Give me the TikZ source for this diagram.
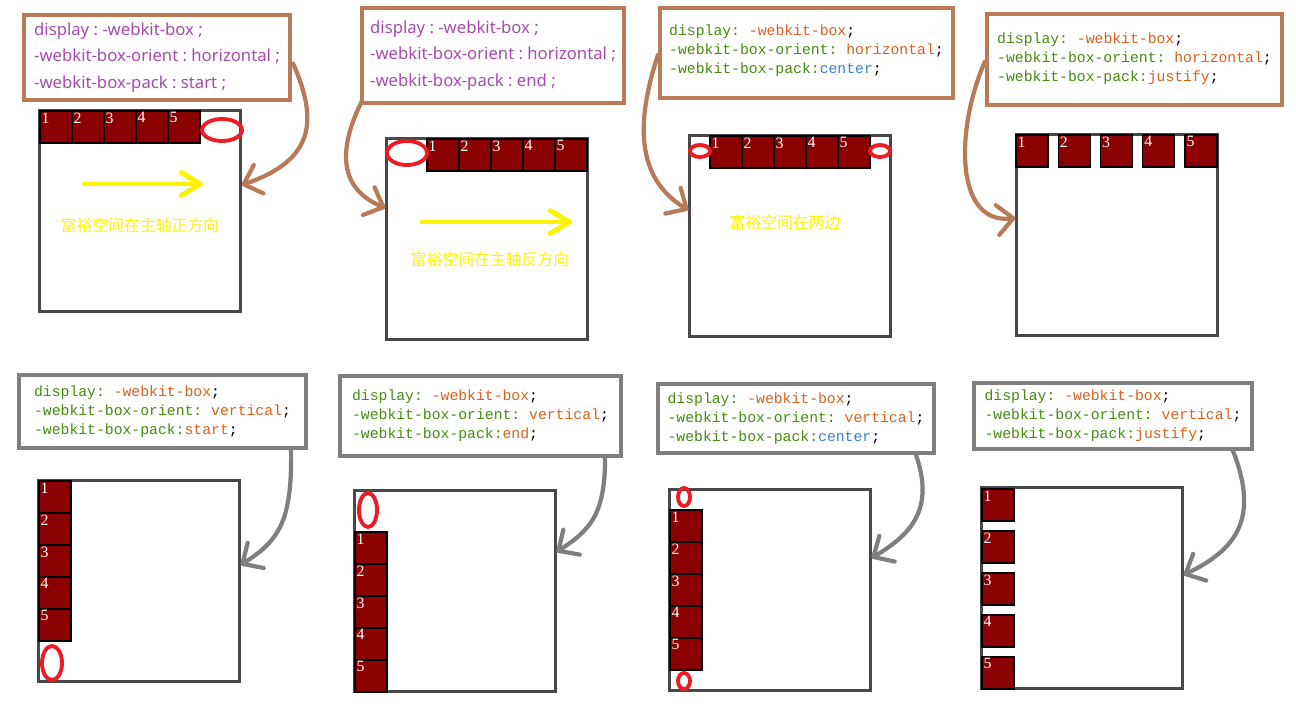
\documentclass[tikz,border=0pt]{standalone}
\usepackage{fontspec}
\usetikzlibrary{arrows.meta,calc}
\newfontfamily\cjk{Noto Sans CJK SC}
\newfontfamily\uifont{Noto Sans}
\newfontfamily\codefont{Liberation Mono}
\newfontfamily\numfont{Liberation Serif}
\definecolor{penbrown}{HTML}{B97A57}
\definecolor{pengray}{HTML}{7F7F7F}
\definecolor{boxgray}{HTML}{484848}
\definecolor{itemred}{HTML}{8B0000}
\definecolor{ovalred}{HTML}{ED1C24}
\definecolor{hiyellow}{HTML}{FFF200}
\definecolor{csspurple}{HTML}{A54BAE}
\definecolor{csskey}{HTML}{468A10}
\definecolor{cssval}{HTML}{D9601C}
\definecolor{cssblue}{HTML}{3C7FD0}
\newcommand{\cssk}[1]{\textcolor{csskey}{#1}}
\newcommand{\cssv}[1]{\textcolor{cssval}{#1}}
\newcommand{\cssb}[1]{\textcolor{cssblue}{#1}}
\frenchspacing
\begin{document}
\begin{tikzpicture}[x=0.02cm, y=-0.02cm]
\tikzset{
  codebox/.style={draw, fill=white, inner sep=0pt, align=left},
  sanscode/.style={codebox, draw=penbrown, line width=2.4pt, text=csspurple, font=\uifont\fontsize{9.5}{15}\selectfont},
  monocode/.style={codebox, line width=2.4pt, font=\codefont\fontsize{8.4}{10.8}\selectfont},
  ctr/.style={draw=boxgray, line width=1.3pt, minimum width=4.02cm, minimum height=4.02cm},
  item/.style={draw=black, line width=0.6pt, fill=itemred, minimum width=0.64cm, minimum height=0.64cm, inner sep=0pt,
    label={[anchor=north west, inner sep=1pt, text=white, font=\numfont\fontsize{9}{9}\selectfont]north west:#1}},
  oval/.style={draw=ovalred, line width=2.2pt},
  hand/.style={line width=2.4pt, line cap=round, line join=round, -{Straight Barb[length=9pt,width=17pt,round]}},
  yarrow/.style={draw=hiyellow, line width=2.8pt, line cap=round, -{Straight Barb[length=11pt,width=13pt,round]}},
  note/.style={text=hiyellow, font=\cjk\fontsize{9}{9}\selectfont}
}
\useasboundingbox (0,0) rectangle (1296,727);

% horizontal, start
\node[sanscode, minimum width=5.32cm, minimum height=1.70cm] (code1) at (157,57.5) {display : -webkit-box ;\\-webkit-box-orient : horizontal ;\\-webkit-box-pack : start ;};
\node[ctr] (box1) at (140,211) {};
\foreach \i in {1,...,5} \node[item=\i] (a\i) at ({56+32*(\i-1)},127) {};
\draw[oval] (222,130) ellipse [x radius=20, y radius=11];
\draw[yarrow] (84,184) -- (203,184);
\node[note] (note1) at (140,225) {富裕空间在主轴正方向};
\draw[hand, penbrown] ($(code1.east)+(1,6)$) .. controls (318,120) and (315,160) .. ($(box1.east)+(0,-26)$);

% horizontal, end
\node[sanscode, minimum width=5.24cm, minimum height=1.90cm] (code2) at (493,55.5) {display : -webkit-box ;\\-webkit-box-orient : horizontal ;\\-webkit-box-pack : end ;};
\node[ctr] (box2) at (487,239) {};
\foreach \i in {1,...,5} \node[item=\i] (b\i) at ({443+32*(\i-1)},155) {};
\draw[oval] (407,153) ellipse [x radius=20, y radius=12];
\draw[yarrow] (422,222) -- (572,222);
\node[note] (note2) at (490,259) {富裕空间在主轴反方向};
\draw[hand, penbrown] ($(code2.south west)+(2,-4)$) .. controls (345,135) and (330,185) .. ($(box2.west)+(0,-31)$);

% horizontal, center
\node[monocode, draw=penbrown, minimum width=5.86cm, minimum height=1.80cm] (code3) at (806.5,53) {\cssk{display:} \cssv{-webkit-box};\\\cssk{-webkit-box-orient:} \cssv{horizontal};\\\cssk{-webkit-box-pack:}\cssb{center};\\[-6pt]};
\node[ctr] (box3) at (790,236) {};
\foreach \i in {1,...,5} \node[item=\i] (c\i) at ({726+32*(\i-1)},152) {};
\draw[oval] (700,151) ellipse [x radius=10, y radius=6];
\draw[oval] (880,151) ellipse [x radius=10, y radius=6];
\node[note] (note3) at (785,222) {富裕空间在两边};
\draw[hand, penbrown] ($(code3.west)+(0,2)$) .. controls (640,110) and (630,175) .. ($(box3.west)+(0,-26)$);

% horizontal, justify
\node[monocode, draw=penbrown, minimum width=5.90cm, minimum height=1.82cm] (code4) at (1134.5,59.5) {\cssk{display:} \cssv{-webkit-box};\\\cssk{-webkit-box-orient:} \cssv{horizontal};\\\cssk{-webkit-box-pack:}\cssv{justify};\\[-8pt]};
\node[ctr] (box4) at (1117,235) {};
\foreach \i in {1,...,5} \node[item=\i] (d\i) at ({1032+42.25*(\i-1)},151) {};
\draw[hand, penbrown] ($(code4.west)+(0,2)$) .. controls (955,130) and (955,225) .. ($(box4.west)+(0,-17)$);

% vertical, start
\node[monocode, draw=pengray, minimum width=5.74cm, minimum height=1.46cm] (code5) at (162.5,411.5) {\cssk{display:} \cssv{-webkit-box};\\\cssk{-webkit-box-orient:} \cssv{vertical};\\\cssk{-webkit-box-pack:}\cssv{start};};
\node[ctr] (box5) at (139,581) {};
\foreach \i in {1,...,5} \node[item=\i] (e\i) at (55,{497+32*(\i-1)}) {};
\draw[oval] (52,663) ellipse [x radius=10, y radius=17];
\draw[hand, pengray] ($(code5.south east)+(-17,0)$) .. controls (292,520) and (280,540) .. ($(box5.east)+(0,-16)$);

% vertical, end
\node[monocode, draw=pengray, minimum width=5.62cm, minimum height=1.60cm] (code6) at (480.5,416) {\cssk{display:} \cssv{-webkit-box};\\\cssk{-webkit-box-orient:} \cssv{vertical};\\\cssk{-webkit-box-pack:}\cssv{end};};
\node[ctr] (box6) at (455,591) {};
\foreach \i in {1,...,5} \node[item=\i] (f\i) at (371,{548+32*(\i-1)}) {};
\draw[oval] (368,510) ellipse [x radius=9, y radius=17];
\draw[hand, pengray] ($(code6.south east)+(-18,0)$) .. controls (605,515) and (590,530) .. ($(box6.east)+(0,-39)$);

% vertical, center
\node[monocode, draw=pengray, minimum width=5.52cm, minimum height=1.38cm] (code7) at (796,418.5) {\cssk{display:} \cssv{-webkit-box};\\\cssk{-webkit-box-orient:} \cssv{vertical};\\\cssk{-webkit-box-pack:}\cssb{center};};
\node[ctr] (box7) at (770,590) {};
\foreach \i in {1,...,5} \node[item=\i] (g\i) at (686,{526+32*(\i-1)}) {};
\draw[oval] (684,497) ellipse [x radius=6, y radius=9];
\draw[oval] (684,681) ellipse [x radius=6, y radius=8];
\draw[hand, pengray] ($(code7.south east)+(-20,0)$) .. controls (935,510) and (910,535) .. ($(box7.east)+(0,-32)$);

% vertical, justify
\node[monocode, draw=pengray, minimum width=5.56cm, minimum height=1.32cm] (code8) at (1113,416) {\cssk{display:} \cssv{-webkit-box};\\\cssk{-webkit-box-orient:} \cssv{vertical};\\\cssk{-webkit-box-pack:}\cssv{justify};};
\node[ctr] (box8) at (1082,588) {};
\foreach \i in {1,...,5} \node[item=\i] (h\i) at (998,{505+42*(\i-1)}) {};
\draw[hand, pengray] ($(code8.south east)+(-21,0)$) .. controls (1260,520) and (1235,550) .. ($(box8.east)+(0,-13)$);
\end{tikzpicture}
\end{document}
